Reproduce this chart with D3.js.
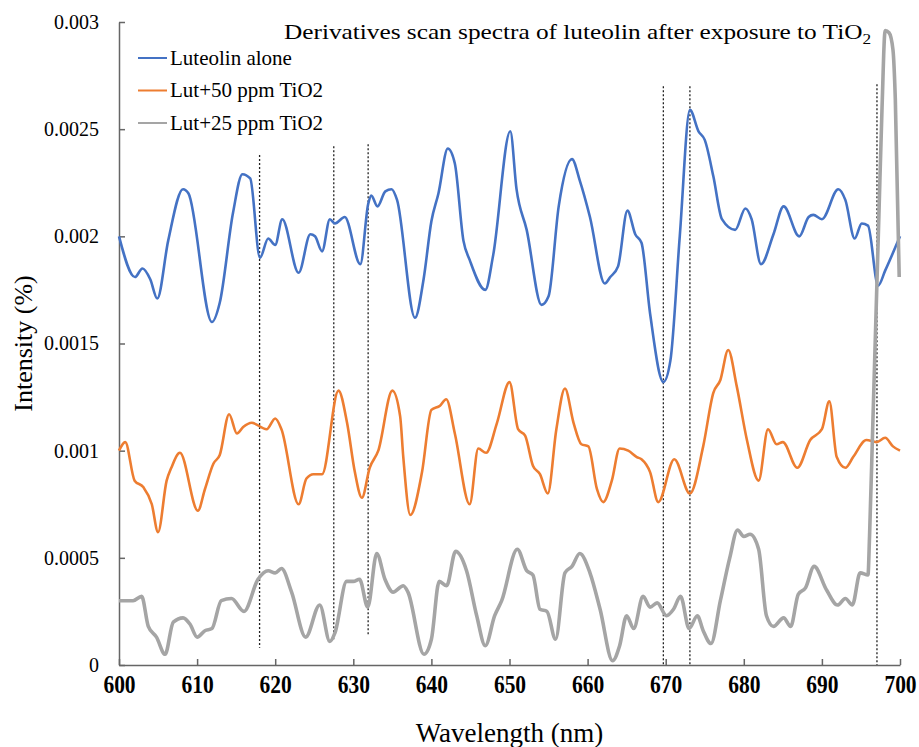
<!DOCTYPE html>
<html>
<head>
<meta charset="utf-8">
<script src="https://cdn.jsdelivr.net/npm/d3@7"></script>
<style>
  html, body { margin: 0; padding: 0; background: #fff; }
</style>
</head>
<body>
<div id="chart"></div>
<script>
// Series names and colours for the legend
var seriesNames = ["Luteolin alone", "Lut+50 ppm TiO2", "Lut+25 ppm TiO2"];
var seriesColors = ["#4472C4", "#ED7D31", "#A5A5A5"];

// Spectra: [wavelength (nm), intensity]
var luteolinAlone = [[600,0.00200],[602.05,0.00181],[603.0,0.00185],[604,0.00180],[604.9,0.00171],[606.3,0.00198],[608.2,0.00222],[608.9,0.00220],[611.9,0.00160],[612.9,0.00169],[614.6,0.00211],[615.8,0.00229],[616.8,0.00227],[618.05,0.00190],[619.1,0.00199],[620.0,0.00196],[620.9,0.00208],[623.0,0.00183],[624.5,0.00201],[625.1,0.00200],[626.0,0.00193],[627.0,0.00208],[627.65,0.00206],[628.9,0.00209],[630.9,0.00187],[631.9,0.00215],[632.3,0.00219],[633.1,0.00214],[634.1,0.00221],[634.9,0.00222],[635.6,0.00217],[637.9,0.00162],[639.0,0.00180],[640.0,0.00207],[640.9,0.00220],[642.1,0.00241],[643.0,0.00234],[644.1,0.00198],[644.9,0.00189],[646.9,0.00175],[647.9,0.00191],[650.1,0.00249],[650.9,0.00222],[652.2,0.00203],[654.1,0.00168],[655.0,0.00172],[656.3,0.00214],[658.0,0.00236],[659.0,0.00226],[660.3,0.00209],[662.2,0.00178],[662.9,0.00181],[663.9,0.00186],[665.1,0.00212],[666.1,0.00201],[666.9,0.00197],[668.0,0.00164],[669.7,0.00132],[670.6,0.00142],[671.8,0.00200],[673.1,0.00259],[674.2,0.00249],[675.0,0.00245],[676.1,0.00228],[677.2,0.00208],[678.9,0.00203],[680.2,0.00213],[681.0,0.00208],[682.2,0.00187],[683.8,0.00201],[685.1,0.00214],[687.1,0.00200],[688.3,0.00209],[688.9,0.00210],[690.0,0.00208],[692.1,0.00222],[693.0,0.00217],[694.2,0.00199],[695.1,0.00206],[695.9,0.00205],[697.2,0.00177],[698.1,0.00184],[700,0.00200]];

var lut50 = [[600,0.00100],[600.8,0.00104],[602.0,0.00086],[603.1,0.00083],[604.2,0.00075],[605.0,0.00062],[606.1,0.00086],[606.7,0.00092],[607.8,0.00099],[610.1,0.00072],[611.0,0.00082],[612.1,0.00094],[612.9,0.00098],[614.1,0.00117],[615.1,0.00108],[615.9,0.00111],[617.0,0.00113],[618.9,0.00110],[620.0,0.00115],[620.8,0.00110],[623.0,0.00075],[624.0,0.00087],[624.9,0.00089],[626.0,0.00089],[628.1,0.00128],[629.2,0.00113],[630.2,0.00090],[631.1,0.00078],[632.1,0.00092],[633.2,0.00100],[635.0,0.00128],[636.0,0.00116],[636.4,0.00097],[637.3,0.00070],[638.8,0.00090],[640.0,0.00119],[641.1,0.00121],[641.9,0.00124],[643.0,0.00108],[644.9,0.00075],[646.0,0.00101],[647.0,0.00099],[648.4,0.00113],[650.0,0.00132],[651.1,0.00110],[652.0,0.00107],[653.0,0.00093],[653.9,0.00089],[654.9,0.00080],[656.0,0.00110],[657.1,0.00129],[658.2,0.00113],[659.2,0.00103],[660.1,0.00102],[661.2,0.00082],[662.0,0.00076],[663.1,0.00086],[664.1,0.00101],[665.2,0.00100],[666.3,0.00097],[666.9,0.00096],[668.0,0.00090],[669.05,0.00076],[671.1,0.00096],[673.1,0.00080],[674.8,0.00102],[676.1,0.00127],[677.0,0.00133],[678.0,0.00147],[679.1,0.00130],[680.4,0.00105],[681.9,0.00086],[683.1,0.00110],[684.2,0.00103],[685.0,0.00104],[686.85,0.00092],[688.5,0.00105],[690.0,0.00110],[690.95,0.00123],[691.9,0.00097],[693.0,0.00092],[694.0,0.00097],[695.7,0.00105],[697.0,0.00104],[698.1,0.00106],[699.1,0.00102],[700,0.00100]];

var lut25 = [[600,0.00030],[601.8,0.00030],[602.9,0.00032],[603.75,0.00018],[604.8,0.00013],[605.9,0.00005],[606.95,0.00020],[608.2,0.00022],[609.1,0.00019],[610.0,0.00013],[611.0,0.00016],[611.9,0.00017],[613.1,0.00030],[614.4,0.00031],[616.0,0.00025],[617.8,0.00040],[619.1,0.00044],[620.0,0.00043],[620.8,0.00045],[622.1,0.00034],[623.9,0.00013],[625.7,0.00028],[627.0,0.00011],[627.65,0.00015],[629.15,0.00039],[630.0,0.00039],[630.8,0.00040],[631.85,0.00027],[633.0,0.00052],[634.05,0.00040],[635.1,0.00034],[636.4,0.00037],[637.0,0.00034],[639.05,0.00005],[640.0,0.00012],[641.0,0.00039],[641.95,0.00037],[643.1,0.00053],[644.5,0.00044],[645.8,0.00023],[646.9,0.00009],[648.1,0.00023],[649.0,0.00030],[651.0,0.00054],[652.2,0.00044],[653.0,0.00042],[653.9,0.00026],[654.8,0.00025],[655.9,0.00012],[657.1,0.00043],[658.0,0.00046],[659.0,0.00052],[660.3,0.00043],[661.6,0.00026],[663.2,0.00002],[664.1,0.00009],[665.0,0.00023],[665.9,0.00017],[667.1,0.00032],[668.0,0.00027],[668.9,0.00029],[670.1,0.00023],[671.0,0.00026],[671.9,0.00032],[673.0,0.00017],[674.05,0.00023],[674.8,0.00016],[675.8,0.00010],[677.0,0.00030],[678.2,0.00050],[679.2,0.00063],[680.0,0.00060],[680.8,0.00061],[681.9,0.00054],[682.9,0.00023],[683.8,0.00018],[685.1,0.00022],[686.0,0.00018],[686.97,0.00033],[687.9,0.00036],[689.0,0.00046],[690.6,0.00035],[692.0,0.00028],[693.0,0.00031],[693.9,0.00028],[694.9,0.00043],[695.9,0.00042],[696.1,0.00060],[696.5,0.00110],[696.9,0.00160],[697.3,0.00210],[697.7,0.00260],[698.1,0.00296],[698.6,0.00295],[699.1,0.00287],[699.4,0.00264],[699.9,0.00181]];

// Dotted marker lines: wavelength, top and bottom intensity
var markerWavelengths = [618, 627.5, 631.9, 669.7, 673.1, 697.05];
var markerTops = [0.00238, 0.00242, 0.00243, 0.00270, 0.00270, 0.00271];
var markerBottoms = [0.00008, 0.00012, 0.00014, 0, 0, 0];

// Tick values
var xTicks = [600, 610, 620, 630, 640, 650, 660, 670, 680, 690, 700];
var yTicks = [0, 0.0005, 0.001, 0.0015, 0.002, 0.0025, 0.003];

var serif = "'Liberation Serif', 'Times New Roman', Times, serif";

var width = 919, height = 747;
var margin = { top: 22, right: 19, bottom: 82, left: 119 };

var svg = d3.select("#chart").append("svg")
    .attr("width", width)
    .attr("height", height);

var x = d3.scaleLinear().domain([600, 700]).range([margin.left, width - margin.right]);
var y = d3.scaleLinear().domain([0, 0.003]).range([height - margin.bottom, margin.top]);

// Axes (ticks point inward like the original)
var xAxis = svg.append("g")
    .attr("transform", `translate(0, ${y(0)})`)
    .call(d3.axisBottom(x).tickValues(xTicks).tickSizeInner(-6).tickSizeOuter(0).tickPadding(10));
xAxis.selectAll("text")
    .style("font-family", serif)
    .style("font-size", "25px")
    .style("font-weight", "bold")
    .attr("transform", "scale(0.86,1)")
    .attr("fill", "#000");

var yAxis = svg.append("g")
    .attr("transform", `translate(${x(600)}, 0)`)
    .call(d3.axisLeft(y).tickValues(yTicks).tickSizeInner(-6).tickSizeOuter(0).tickPadding(20)
        .tickFormat(d => d === 0 ? "0" : String(+d.toFixed(4))));
yAxis.selectAll("text")
    .style("font-family", serif)
    .style("font-size", "20px")
    .attr("fill", "#000");

svg.selectAll(".domain").attr("stroke", "#666").attr("stroke-width", 1.5);
svg.selectAll(".tick line").attr("stroke", "#666").attr("stroke-width", 1.5);

// Dotted vertical markers
svg.append("g").selectAll("line")
    .data(markerWavelengths)
    .join("line")
    .attr("x1", d => x(d))
    .attr("x2", d => x(d))
    .attr("y1", (d, i) => y(markerTops[i]))
    .attr("y2", (d, i) => y(markerBottoms[i]))
    .attr("stroke", "#222")
    .attr("stroke-width", 1.3)
    .attr("stroke-dasharray", "2,2");

// Lines
var line = d3.line()
    .x(d => x(d[0]))
    .y(d => y(d[1]))
    .curve(d3.curveMonotoneX);

var allSeries = [luteolinAlone, lut50, lut25];
var lineWidths = [2.6, 2.6, 3.6];

allSeries.forEach(function (s, i) {
    svg.append("path")
        .datum(s)
        .attr("fill", "none")
        .attr("stroke", seriesColors[i])
        .attr("stroke-width", lineWidths[i])
        .attr("stroke-linejoin", "round")
        .attr("d", line);
});

// Legend
var legend = svg.append("g");
seriesNames.forEach(function (name, i) {
    var ly = 58 + i * 32.5;
    legend.append("line")
        .attr("x1", 138).attr("x2", 167)
        .attr("y1", ly).attr("y2", ly)
        .attr("stroke", seriesColors[i])
        .attr("stroke-width", 2);
    legend.append("text")
        .attr("x", 170)
        .attr("y", ly)
        .attr("dy", "0.33em")
        .style("font-family", serif)
        .style("font-size", "21px")
        .text(name);
});

// Title with subscript, stretched a bit to the original's width
var title = svg.append("text")
    .attr("transform", "translate(284, 39) scale(1.15, 1)")
    .style("font-family", serif)
    .style("font-size", "22px");
title.append("tspan").text("Derivatives scan spectra of luteolin after exposure to TiO");
title.append("tspan").attr("dy", 5).style("font-size", "15px").text("2");

// Axis labels
svg.append("text")
    .attr("transform", `translate(32, ${(y(0) + y(0.003)) / 2}) rotate(-90)`)
    .attr("text-anchor", "middle")
    .style("font-family", serif)
    .style("font-size", "26px")
    .text("Intensity (%)");

svg.append("text")
    .attr("x", (x(600) + x(700)) / 2)
    .attr("y", 742)
    .attr("text-anchor", "middle")
    .style("font-family", serif)
    .style("font-size", "27px")
    .text("Wavelength (nm)");
</script>
</body>
</html>
